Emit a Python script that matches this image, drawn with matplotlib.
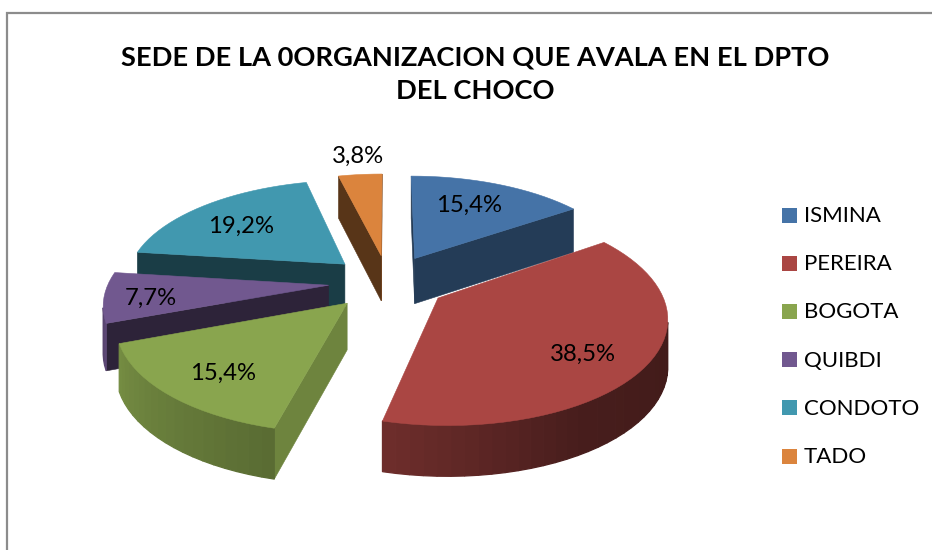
import numpy as np
import matplotlib
matplotlib.use('Agg')
import matplotlib.pyplot as plt
from matplotlib.patches import Polygon, Rectangle

title = 'SEDE DE LA 0ORGANIZACION QUE AVALA EN EL DPTO\nDEL CHOCO'
labels = ['ISMINA', 'PEREIRA', 'BOGOTA', 'QUIBDI', 'CONDOTO', 'TADO']
values = [15.4, 38.5, 15.4, 7.7, 19.2, 3.8]
value_labels = ['15,4%', '38,5%', '15,4%', '7,7%', '19,2%', '3,8%']

colors = ['#4573A7', '#AA4643', '#89A54E', '#71588F', '#4198AF', '#DB843D']
label_xy = [(469, 205), (583, 354), (223, 373), (151, 298), (241, 226), (358, 156)]
# back slices first so the front ones paint over them
draw_order = [5, 4, 0, 3, 1, 2]
# shade of the flat cut faces, one per slice boundary
wall_shade = [0.5, 0.52, 0.8, 0.4, 0.4, 0.4]

# projection of the pie, in pixels
cx, cy = 388, 282
scale_x, scale_y = 220, 102
persp = 0.156
explode = 0.27
depth = 46

plt.rcParams['font.family'] = ['Lato', 'DejaVu Sans']


def project(gx, gy):
    w = 1 + persp * gy
    top = (cx + scale_x * gx / w, cy - scale_y * gy / w)
    low = (top[0], top[1] + depth / np.sqrt(w))
    return top, low


def darker(color, f):
    rgb = np.array(matplotlib.colors.to_rgb(color))
    return tuple(rgb * f)


def is_facing(pts):
    # clockwise walk round the slice: seen faces come out anticlockwise on screen
    xs = np.array([p[0] for p in pts])
    ys = np.array([p[1] for p in pts])
    return np.sum(xs * np.roll(ys, -1) - np.roll(xs, -1) * ys) < 0


def arc_shade(deg):
    return np.interp(deg, [100, 150, 194, 249, 280], [0.38, 0.42, 0.65, 0.85, 0.55])


fig = plt.figure(figsize=(9.32, 5.5), dpi=100)
ax = fig.add_axes([0, 0, 1, 1])
ax.set_xlim(0, 932)
ax.set_ylim(550, 0)
ax.axis('off')

# chart frame, cut off by the crop on the other sides
ax.plot([7, 7, 932], [550, 12.5, 12.5], color='#8C8C8C', lw=1.6, solid_joinstyle='miter')

edges = np.concatenate([[0], np.cumsum(values)]) / np.sum(values) * 360

for i in draw_order:
    start, end = edges[i], edges[i + 1]
    mid = np.radians((start + end) / 2)
    ox, oy = explode * np.sin(mid), explode * np.cos(mid)
    degs = np.linspace(start, end, int((end - start) / 3) + 2)
    rim = [project(ox + np.sin(np.radians(d)), oy + np.cos(np.radians(d))) for d in degs]
    apex = project(ox, oy)

    # cut faces
    for a, b, f in [(apex, rim[0], wall_shade[i]),
                    (rim[-1], apex, wall_shade[(i + 1) % len(values)])]:
        quad = [a[0], b[0], b[1], a[1]]
        if is_facing(quad):
            c = darker(colors[i], f)
            ax.add_patch(Polygon(quad, closed=True, facecolor=c, edgecolor=c, lw=0.4))

    # outer rim, shaded strip by strip
    for j in range(len(rim) - 1):
        a, b = rim[j], rim[j + 1]
        quad = [a[0], b[0], b[1], a[1]]
        if is_facing(quad):
            c = darker(colors[i], arc_shade((degs[j] + degs[j + 1]) / 2))
            ax.add_patch(Polygon(quad, closed=True, facecolor=c, edgecolor=c, lw=0.9))

    # top face
    top = [apex[0]] + [r[0] for r in rim]
    ax.add_patch(Polygon(top, closed=True, facecolor=colors[i], edgecolor=colors[i], lw=0.4))

for (x, y), txt in zip(label_xy, value_labels):
    ax.text(x, y, txt, fontsize=17.2, ha='center', va='center', color='black')

ax.text(475.5, 74, title, fontsize=19.6, fontweight='bold', ha='center', va='center',
        color='black', linespacing=1.46)

# legend
for k, (name, color) in enumerate(zip(labels, colors)):
    y = 215 + k * 48.2
    ax.add_patch(Rectangle((782, y - 7.5), 15, 15, facecolor=color, edgecolor='none'))
    ax.text(804, y + 1, name, fontsize=16, ha='left', va='center', color='black')

plt.savefig('out.png', dpi=100)
